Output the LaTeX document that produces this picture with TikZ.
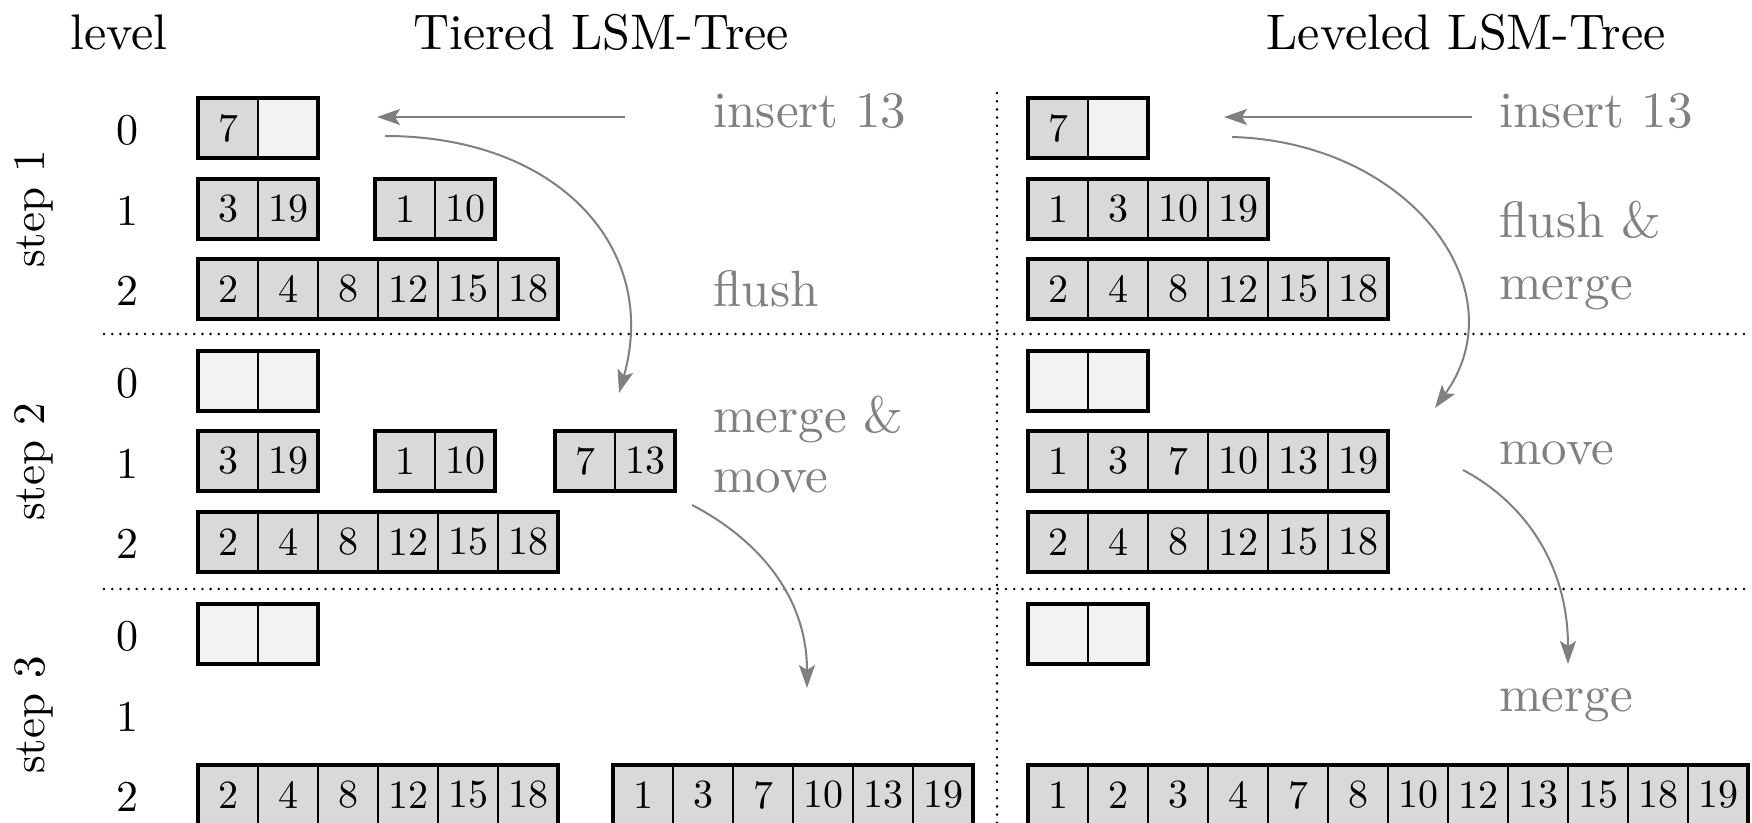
\documentclass[tikz,border=0pt]{standalone}
\usepackage{fontspec}
\setmainfont{lmroman10-regular.otf}
\usetikzlibrary{fit,arrows.meta}

\definecolor{cellfull}{RGB}{217,217,217}
\definecolor{cellempty}{RGB}{242,242,242}
\definecolor{notegray}{RGB}{128,128,128}

\tikzset{
  cell/.style={draw=black, line width=1pt, minimum width=30pt, minimum height=30pt,
    inner sep=0pt, outer sep=0pt, font=\fontsize{20}{24}\selectfont},
  held/.style={fill=cellfull},
  spare/.style={fill=cellempty},
  runframe/.style={draw=black, line width=2.2pt, inner sep=0pt, outer sep=0pt},
  note/.style={text=notegray, font=\fontsize{25.5}{30}\selectfont, anchor=base west, inner sep=0pt},
  head/.style={font=\fontsize{25}{30}\selectfont, anchor=base, inner sep=0pt},
  lvl/.style={font=\fontsize{22}{26}\selectfont, inner sep=0pt},
  steplabel/.style={font=\fontsize{22.5}{27}\selectfont, rotate=90, anchor=base, inner sep=0pt},
  flow/.style={draw=notegray, line width=1pt, -{Stealth[length=11.5pt,width=8pt,inset=2.5pt]}},
  sepline/.style={line width=1.4pt, dash pattern=on 0pt off 4.1pt, line cap=round},
}

% #1 name, #2 left x, #3 top y, #4 number of cells, #5 value/style entries
\newcommand{\runbox}[5]{%
  \foreach \v/\s [count=\i] in {#5}{
    \node[cell,\s] (#1-\i) at ({#2+(\i-0.5)*60},{#3+30}) {\v};
  }
  \node[runframe, fit=(#1-1)(#1-#4)] (#1) {};
}

\begin{document}
\begin{tikzpicture}[x=0.5pt,y=-0.5pt]
\path[use as bounding box] (0,0) rectangle (1752,823);
\clip (0,0) rectangle (1752,823);

% column headers
\node[head] (hlevel) at (119,50) {level};
\node[head] (htiered) at (601,50) {Tiered LSM-Tree};
\node[head] (hleveled) at (1466,50) {Leveled LSM-Tree};

% step labels and level numbers
\node[steplabel] (step1) at (44,209) {step 1};
\node[steplabel] (step2) at (44,462) {step 2};
\node[steplabel] (step3) at (44,715) {step 3};
\foreach \s/\t in {1/98, 2/351, 3/604}{
  \foreach \l/\o in {0/0, 1/81, 2/161}{
    \node[lvl] (lv\s-\l) at (127,{\t+\o+32}) {\l};
  }
}

% separators
\draw[sepline] (104,334) -- (1752,334);
\draw[sepline] (104,589) -- (1752,589);
\draw[sepline] (997,93) -- (997,823);

% tiered LSM-tree, step 1
\runbox{t1l0}{198}{98}{2}{7/held, /spare}
\runbox{t1l1a}{198}{179}{2}{3/held,19/held}
\runbox{t1l1b}{375}{179}{2}{1/held,10/held}
\runbox{t1l2}{198}{259}{6}{2/held,4/held,8/held,12/held,15/held,18/held}
% tiered, step 2
\runbox{t2l0}{198}{351}{2}{ /spare, /spare}
\runbox{t2l1a}{198}{431}{2}{3/held,19/held}
\runbox{t2l1b}{375}{431}{2}{1/held,10/held}
\runbox{t2l1c}{555}{431}{2}{7/held,13/held}
\runbox{t2l2}{198}{512}{6}{2/held,4/held,8/held,12/held,15/held,18/held}
% tiered, step 3
\runbox{t3l0}{198}{604}{2}{ /spare, /spare}
\runbox{t3l2a}{198}{765}{6}{2/held,4/held,8/held,12/held,15/held,18/held}
\runbox{t3l2b}{613}{765}{6}{1/held,3/held,7/held,10/held,13/held,19/held}

% leveled LSM-tree, step 1
\runbox{v1l0}{1028}{98}{2}{7/held, /spare}
\runbox{v1l1}{1028}{179}{4}{1/held,3/held,10/held,19/held}
\runbox{v1l2}{1028}{259}{6}{2/held,4/held,8/held,12/held,15/held,18/held}
% leveled, step 2
\runbox{v2l0}{1028}{351}{2}{ /spare, /spare}
\runbox{v2l1}{1028}{431}{6}{1/held,3/held,7/held,10/held,13/held,19/held}
\runbox{v2l2}{1028}{512}{6}{2/held,4/held,8/held,12/held,15/held,18/held}
% leveled, step 3
\runbox{v3l0}{1028}{604}{2}{ /spare, /spare}
\runbox{v3l2}{1028}{765}{12}{1/held,2/held,3/held,4/held,7/held,8/held,10/held,12/held,13/held,15/held,18/held,19/held}

% operation notes
\node[note] (tins) at (713,128) {insert 13};
\node[note] (tflush) at (713,307) {flush};
\node[note] (tmerge) at (713,433) {merge \&};
\node[note] (tmove) at (713,493) {move};
\node[note] (vins) at (1499,128) {insert 13};
\node[note] (vflush) at (1499,238) {flush \&};
\node[note] (vmerge) at (1499,300) {merge};
\node[note] (vmove) at (1499,465) {move};
\node[note] (vmerge3) at (1499,711) {merge};

% arrow end points
\coordinate (tinsA) at (625,117);
\coordinate (tinsB) at (377,117);
\coordinate (tflA) at (385,136);
\coordinate (tflB) at (619,393);
\coordinate (tmvA) at (692,505);
\coordinate (tmvB) at (807,688);
\coordinate (vinsA) at (1472,117);
\coordinate (vinsB) at (1224,117);
\coordinate (vflA) at (1232,137);
\coordinate (vflB) at (1435,408);
\coordinate (vmvA) at (1463,470);
\coordinate (vmvB) at (1568,664);

% arrows
\draw[flow] (tinsA) -- (tinsB);
\draw[flow] (tflA) .. controls (560,136) and (660,250) .. (tflB);
\draw[flow] (tmvA) .. controls (750,535) and (807,590) .. (tmvB);
\draw[flow] (vinsA) -- (vinsB);
\draw[flow] (vflA) .. controls (1410,142) and (1520,290) .. (vflB);
\draw[flow] (vmvA) .. controls (1520,500) and (1568,560) .. (vmvB);
\end{tikzpicture}
\end{document}
